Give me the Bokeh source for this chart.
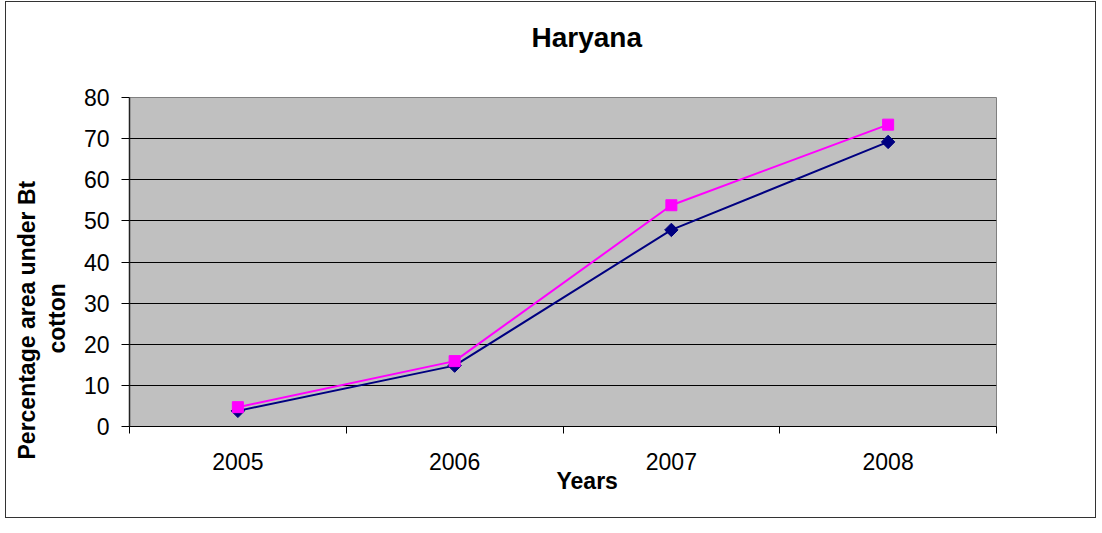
from math import pi
from bokeh.plotting import figure
from bokeh.models import Range1d, FixedTicker, Title, ColumnDataSource, LinearAxis
from bokeh.embed import file_html
from bokeh.resources import INLINE

# ---- data ----
years = ["2005", "2006", "2007", "2008"]
series_a = [3.8, 14.8, 47.8, 69.2]     # navy diamonds
series_b = [4.7, 15.9, 53.8, 73.4]     # magenta squares
y_ticks = [0, 10, 20, 30, 40, 50, 60, 70, 80]
title_text = "Haryana"
x_title = "Years"
y_title_lines = ["Percentage area under Bt", "cotton"]

FONT = "Liberation Sans"

xpos = [i + 0.5 for i in range(len(years))]
src = ColumnDataSource(dict(x=xpos, a=series_a, b=series_b))

p = figure(width=1091, height=517, output_backend="svg", toolbar_location=None,
           x_range=Range1d(0, len(years)), y_range=Range1d(0, 80),
           min_border_left=123, min_border_right=101, min_border_top=95,
           min_border_bottom=93, title=None)
p.styles = {"border": "1px solid #333333", "margin-left": "5px", "margin-top": "1px"}

p.background_fill_color = "#C0C0C0"
p.border_fill_color = "white"
p.outline_line_color = "#808080"
p.outline_line_width = 1

# x axis: labels at category centres, ticks at boundaries
xax = p.xaxis[0]
xax.ticker = FixedTicker(ticks=xpos, minor_ticks=list(range(len(years) + 1)))
xax.major_label_overrides = {xv: yr for xv, yr in zip(xpos, years)}
xax.major_tick_line_color = None
xax.major_tick_out = 7
xax.major_tick_in = 0
xax.minor_tick_line_color = "black"
xax.minor_tick_out = 7
xax.minor_tick_in = 0
xax.axis_line_color = "black"
xax.major_label_text_font = FONT
xax.major_label_text_font_size = "23px"
xax.major_label_text_color = "black"
xax.major_label_standoff = 19

yax = p.yaxis[0]
yax.ticker = FixedTicker(ticks=y_ticks)
yax.major_tick_out = 8
yax.major_tick_in = 0
yax.minor_tick_line_color = None
yax.major_tick_line_color = "black"
yax.axis_line_color = "#222222"
yax.axis_line_width = 1.5
yax.major_label_text_font = FONT
yax.major_label_text_font_size = "23px"
yax.major_label_text_color = "black"
yax.major_label_standoff = 12

p.xgrid.grid_line_color = None
p.ygrid.ticker = FixedTicker(ticks=y_ticks[1:-1])
p.ygrid.grid_line_color = "black"
p.ygrid.grid_line_width = 1

# series
p.line("x", "a", source=src, line_color="#000080", line_width=2)
p.scatter("x", "a", source=src, marker="square", angle=pi / 4, size=9.5,
          fill_color="#000080", line_color="#000080")
p.line("x", "b", source=src, line_color="#FF00FF", line_width=2)
p.scatter("x", "b", source=src, marker="square", size=11,
          fill_color="#FF00FF", line_color="#FF00FF")

# white (invisible on white border) spacer above the frame to lift the title
spacer = LinearAxis(ticker=FixedTicker(ticks=[0]), axis_line_color=None,
                    major_tick_line_color="white", minor_tick_line_color=None,
                    major_tick_out=40, major_tick_in=0, minor_tick_out=0,
                    minor_tick_in=0, major_label_standoff=0,
                    major_label_overrides={0: ""},
                    major_label_text_font_size="1px")
p.add_layout(spacer, "above")

p.add_layout(Title(text=title_text, align="left", offset=402, standoff=10,
                   vertical_align="bottom", text_font=FONT, text_font_size="28px",
                   text_font_style="bold", text_color="black"), "above")

# axis titles as side titles (allow offsets)
p.add_layout(Title(text=x_title, align="left", offset=427, standoff=-14,
                   text_font=FONT, text_font_size="23px", text_font_style="bold",
                   text_color="black"), "below")
p.add_layout(Title(text=y_title_lines[1], align="left", offset=73, standoff=22,
                   text_font=FONT, text_font_size="23px", text_font_style="bold",
                   text_color="black"), "left")
p.add_layout(Title(text=y_title_lines[0], align="left", offset=-33, standoff=-19,
                   text_font=FONT, text_font_size="23px", text_font_style="bold",
                   text_color="black"), "left")

open("out.html", "w").write(file_html(p, INLINE))
